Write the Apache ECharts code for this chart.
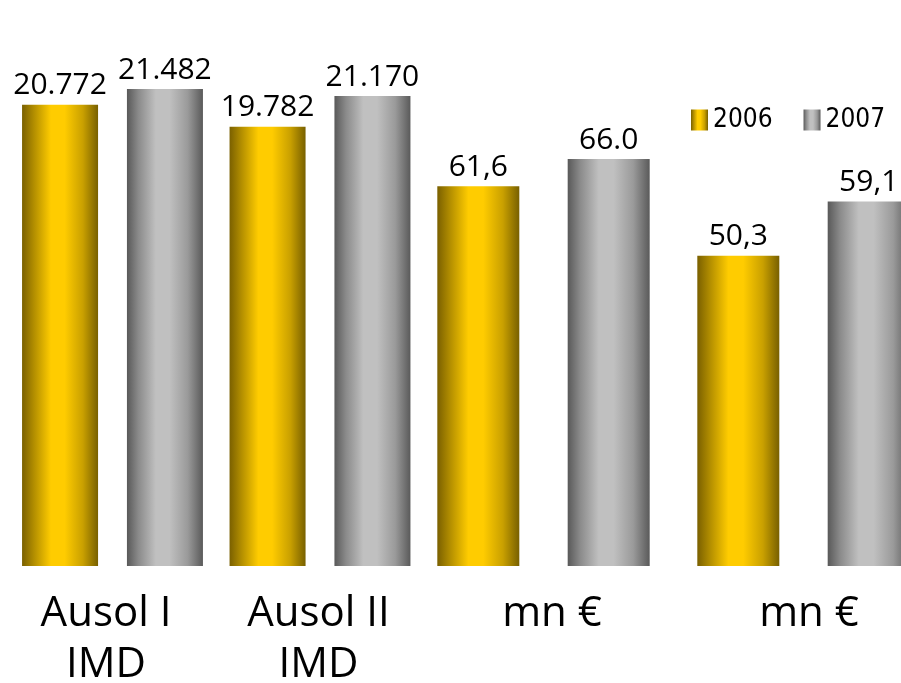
<!DOCTYPE html>
<html>
<head>
<meta charset="utf-8">
<script src="https://cdn.jsdelivr.net/npm/echarts@6/dist/echarts.min.js"></script>
<style>
html,body{margin:0;padding:0;background:#fff;}
#chart{width:901px;height:683px;}
</style>
</head>
<body>
<div id="chart"></div>
<script>
// ---- data ----
const categoriesTraffic = ['Ausol I\nIMD', 'Ausol II\nIMD'];
const categoriesMoney = ['mn €', 'mn €'];
const years = ['2006', '2007'];
const traffic2006 = [20772, 19782];
const traffic2007 = [21482, 21170];
const money2006 = [61.6, 50.3];
const money2007 = [66.0, 59.1];
const trafficLabels2006 = ['20.772', '19.782'];
const trafficLabels2007 = ['21.482', '21.170'];
const moneyLabels2006 = ['61,6', '50,3'];
const moneyLabels2007 = ['66.0', '59,1'];

// ---- styles ----
const gold = {type:'linear', x:0, y:0, x2:1, y2:0, colorStops:[
  {offset:0, color:'#7a6000'}, {offset:0.15, color:'#b08c00'}, {offset:0.38, color:'#ffcc00'},
  {offset:0.56, color:'#ffcc00'}, {offset:0.8, color:'#c9a000'}, {offset:1, color:'#786000'}]};
const silver = {type:'linear', x:0, y:0, x2:1, y2:0, colorStops:[
  {offset:0, color:'#595959'}, {offset:0.15, color:'#8a8a8a'}, {offset:0.38, color:'#c0c0c0'},
  {offset:0.56, color:'#c0c0c0'}, {offset:0.8, color:'#9a9a9a'}, {offset:1, color:'#5a5a5a'}]};

const labelFont = 'Open Sans';
function valueLabel(arr){
  return {show:true, position:'top', distance:4, color:'#000', fontFamily:labelFont, fontSize:30,
    formatter: p => arr[p.dataIndex]};
}
// horizontal nudge of each category label (px, + = right)
function shifted(cats, shifts){
  return cats.map((c, i) => {
    const s = shifts[i] * 2;
    return {value:c, textStyle:{padding: s >= 0 ? [0,0,0,s] : [0,-s,0,0]}};
  });
}
function catAxis(gridIndex, data){
  return {type:'category', gridIndex, data,
    axisLine:{show:false}, axisTick:{show:false},
    axisLabel:{color:'#000', fontFamily:labelFont, fontSize:42, lineHeight:51, margin:23, interval:0}};
}
function valAxis(gridIndex, max){
  return {type:'value', gridIndex, min:0, max, show:false, splitLine:{show:false}};
}

const chart = echarts.init(document.getElementById('chart'), null, {renderer:'canvas'});
chart.setOption({
  animation:false,
  backgroundColor:'#fff',
  legend:{data:years, left:686, top:102, width:300, orient:'horizontal', itemWidth:17, itemHeight:21, itemGap:31,
    textStyle:{fontFamily:"'DejaVu Sans Condensed', 'Liberation Sans', sans-serif", fontSize:26, color:'#000'},
    icon:'rect'},
  grid:[
    {left:8.75, width:415, top:11, bottom:117, outerBoundsMode:'none'},
    {left:413.5, right:-32.5, top:11, bottom:117, outerBoundsMode:'none'}
  ],
  xAxis:[catAxis(0, shifted(categoriesTraffic, [-6.5, -1.5])), catAxis(1, shifted(categoriesMoney, [8.5, 5.5]))],
  yAxis:[valAxis(0, 25000), valAxis(1, 90)],
  series:[
    {name:years[0], type:'bar', xAxisIndex:0, yAxisIndex:0, data:traffic2006, barWidth:76, barGap:'38%',
      itemStyle:{color:gold}, label:valueLabel(trafficLabels2006)},
    {name:years[1], type:'bar', xAxisIndex:0, yAxisIndex:0, data:traffic2007, barWidth:76, barGap:'38%',
      itemStyle:{color:silver}, label:valueLabel(trafficLabels2007)},
    {name:years[0], type:'bar', xAxisIndex:1, yAxisIndex:1, data:money2006, barWidth:82, barGap:'59%',
      itemStyle:{color:gold}, label:valueLabel(moneyLabels2006)},
    {name:years[1], type:'bar', xAxisIndex:1, yAxisIndex:1, data:money2007, barWidth:82, barGap:'59%',
      itemStyle:{color:silver}, label:valueLabel(moneyLabels2007)}
  ]
});
</script>
</body>
</html>
